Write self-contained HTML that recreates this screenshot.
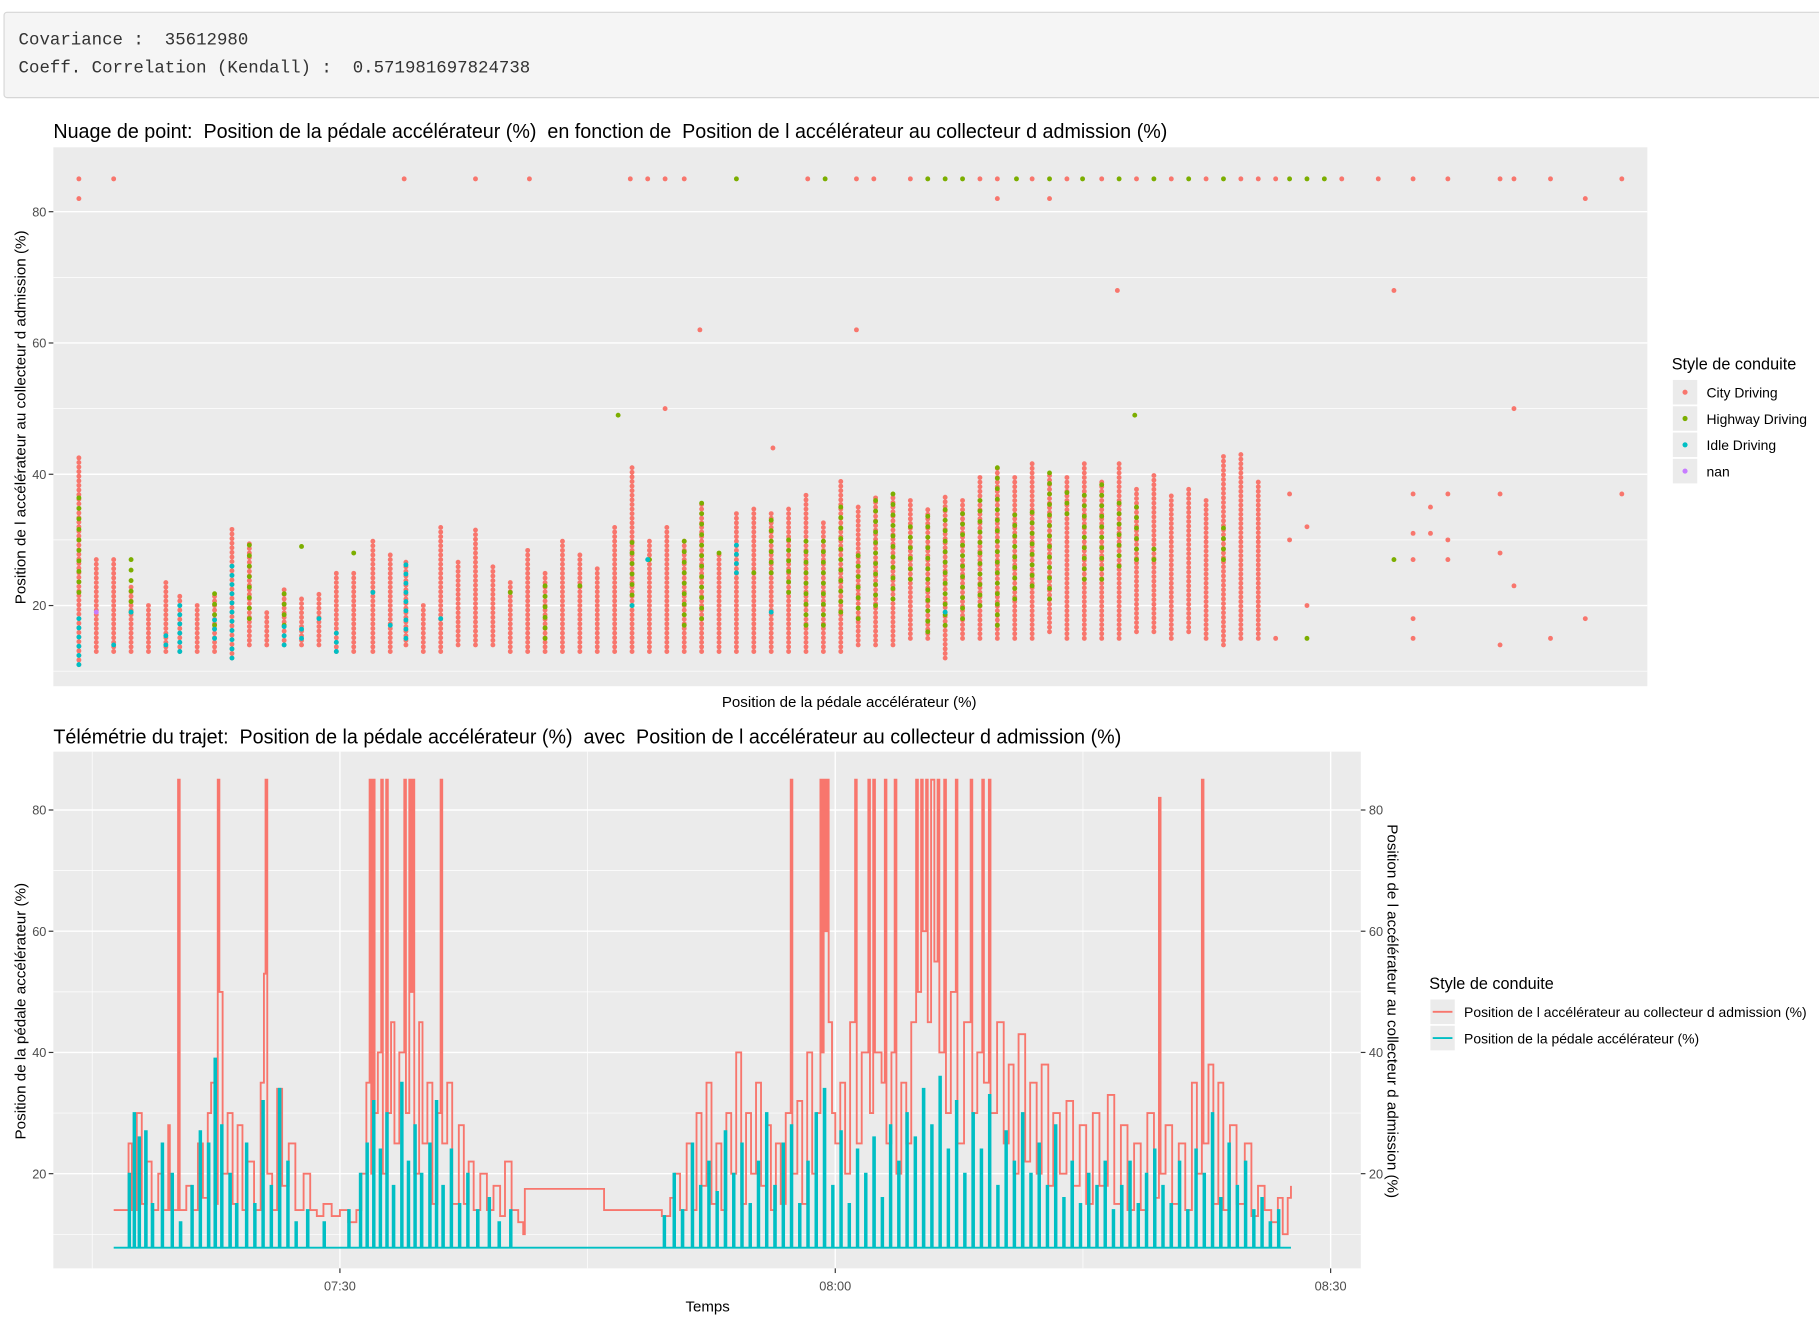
<!DOCTYPE html>
<html><head><meta charset="utf-8">
<style>
html,body{margin:0;padding:0;background:#fff;overflow:hidden;}
#wrap{position:absolute;left:0;top:0;width:1568px;height:1130px;transform-origin:0 0;transform:scale(1.1601,1.1690);}
.out{position:absolute;left:3px;top:10px;width:1570px;height:72px;background:#f5f5f5;border:1px solid #d6d6d6;border-radius:3px;}
.out div{position:absolute;left:12px;font-family:"Liberation Mono",monospace;font-size:15px;color:#333;white-space:pre;}
svg text{font-family:"Liberation Sans",Arial,sans-serif;white-space:pre;}
</style></head><body>
<div id="wrap">
<div class="out">
<div style="top:15px">Covariance :  35612980</div>
<div style="top:39px">Coeff. Correlation (Kendall) :  0.571981697824738</div>
</div>
<svg id="svg" width="1568" height="1130" style="position:absolute;left:0;top:0"></svg>
</div>
<script>
// ---------- Scatter data ----------
const redCols=[[0,11,43],[1,13,27],[2,13,27],[3,13,23],[4,13,20],[5,13,24],[5.8,13,22],[6.8,13,20],[7.8,13,22],[8.8,12,32],[9.8,14,30],[10.8,14,19],[11.8,14,23],[12.8,14,21],[13.8,14,22],[14.8,13,25],[15.8,13,25],[16.9,13,30],[17.9,13,28],[18.8,14,27],[19.8,13,20],[20.8,13,32],[21.8,14,27],[22.8,14,32],[23.8,14,26],[24.8,13,24],[25.8,13,29],[26.8,13,25],[27.8,13,30],[28.8,13,28],[29.8,13,26],[30.8,13,32],[31.8,13,41],[32.8,13,30],[33.8,13,32],[34.8,13,30],[35.8,13,36],[36.8,13,28],[37.8,13,34],[38.8,13,35],[39.8,13,34],[40.8,13,35],[41.8,13,37],[42.8,13,33],[43.8,13,39],[44.8,14,35],[45.8,14,37],[46.8,14,37],[47.8,15,36],[48.8,15,35],[49.8,12,37],[50.8,15,36],[51.8,15,40],[52.8,15,41],[53.8,15,40],[54.8,15,42],[55.8,16,40],[56.8,15,40],[57.8,15,42],[58.8,15,39],[59.8,15,42],[60.8,16,38],[61.8,16,40],[62.8,15,37],[63.8,16,38],[64.8,15,36],[65.8,14,43],[66.8,15,43],[67.8,15,39]];
const redPtsX=[68.8,69.6,69.6,70.6,70.6,76.7,76.7,76.7,76.7,76.7,77.7,77.7,78.7,78.7,78.7,81.7,81.7,81.7,82.5,82.5,84.6,86.6,88.7,75.6,59.7,35.7,44.7,33.7,39.9,0,2,18.7,22.8,25.9,31.7,32.7,33.7,34.8,41.9,44.7,45.7,47.8,51.8,52.8,54.8,56.8,58.8,60.8,62.8,64.8,66.8,67.8,68.8,72.6,74.7,76.7,78.7,81.7,82.5,84.6,88.7,0,52.8,55.8,86.6];
const redPtsY=[15,30,37,32,20,15,18,27,31,37,35,31,37,30,27,37,28,14,23,50,15,18,37,68,68,62,62,50,44,85,85,85,85,85,85,85,85,85,85,85,85,85,85,85,85,85,85,85,85,85,85,85,85,85,85,85,85,85,85,85,85,82,82,82,82];
const greenCols=[[0,22,37],[3,19,28],[7.8,17,22],[9.8,18,30],[11.8,17,23],[26.8,15,24],[31.8,20,30],[34.8,17,30],[35.8,18,36],[39.8,25,34],[40.8,22,31],[41.8,17,30],[42.8,17,31],[43.8,19,36],[44.8,18,28],[45.8,20,37],[46.8,21,37],[47.8,24,33],[48.8,16,34],[49.8,17,35],[50.8,18,34],[51.8,20,37],[52.8,17,41],[53.8,21,35],[54.8,23,35],[55.8,21,41],[56.8,34,38],[57.8,24,38],[58.8,24,39],[59.8,26,36],[60.8,27,35],[61.8,27,30],[65.8,27,32]];
const greenPtsX=[12.8,15.8,24.8,28.8,32.8,36.8,38.8,70.6,75.6,31,60.7,37.8,42.9,48.8,49.8,50.8,53.9,55.8,57.7,59.8,61.8,63.8,65.8,69.6,70.6,71.6];
const greenPtsY=[29,28,22,23,27,28,25,15,27,49,49,85,85,85,85,85,85,85,85,85,85,85,85,85,85,85];
const cyanCols=[[0,11,18],[5,14,16],[5.8,13,21],[7.8,15,18],[8.8,12,26],[11.8,14,18],[12.8,15,17],[14.8,13,16],[18.8,15,27],[37.8,25,30]];
const cyanPtsX=[2,3,13.8,16.9,17.9,20.8,31.8,32.7,39.8,49.8];
const cyanPtsY=[14,19,18,22,17,18,20,27,19,19];
const nanPtsX=[1];
const nanPtsY=[19];
const scYTicks=[20,40,60,80];

// ---------- Telemetry data (minutes after 07:00) ----------
const redT=[16.3,16.8,17.2,17.4,17.7,18.0,18.3,18.6,19.0,19.3,19.6,19.7,20.0,20.2,20.3,20.7,21.0,21.4,21.7,22.0,22.2,22.4,22.6,22.7,22.9,23.2,23.5,23.8,24.1,24.4,24.8,25.2,25.4,25.5,25.6,25.9,26.2,26.5,26.9,27.3,27.8,28.2,28.6,29.0,29.5,30.0,30.5,31.0,31.3,31.6,31.8,31.9,32.0,32.1,32.3,32.5,32.6,32.8,32.9,33.1,33.3,33.6,33.9,34.0,34.2,34.3,34.4,34.5,34.8,35.0,35.3,35.6,35.9,36.1,36.2,36.5,36.8,37.2,37.5,37.8,38.1,38.5,38.9,39.3,39.7,40.0,40.4,40.8,41.1,41.2,46.0,46.0,49.0,49.5,50.0,50.3,50.6,51.0,51.3,51.6,51.9,52.2,52.5,52.8,53.1,53.4,53.7,54.0,54.3,54.6,54.9,55.2,55.5,55.8,56.1,56.4,56.7,57.0,57.3,57.4,57.7,58.0,58.3,58.6,58.9,59.1,59.2,59.3,59.4,59.5,59.6,59.8,60.0,60.3,60.6,60.9,61.2,61.3,61.6,62.0,62.1,62.3,62.4,62.8,63.0,63.1,63.4,63.6,63.7,64.0,64.3,64.6,64.9,65.0,65.2,65.3,65.5,65.6,65.8,66.0,66.2,66.3,66.6,66.7,67.0,67.3,67.4,67.8,68.2,68.3,68.6,68.9,69.0,69.3,69.4,69.8,70.2,70.5,70.8,71.1,71.5,71.8,72.2,72.5,72.9,73.2,73.6,74.0,74.4,74.8,75.2,75.6,76.0,76.5,76.9,77.3,77.7,78.1,78.5,78.9,79.3,79.6,79.7,80.0,80.4,80.8,81.2,81.6,81.9,82.2,82.3,82.6,82.9,83.2,83.5,83.9,84.3,84.8,85.2,85.6,86.0,86.4,86.8,87.1,87.4,87.6];
const redV=[14,14,25,14,30,15,22,14,20,14,28,14,14,85,14,18,14,25,16,30,35,15,85,50,20,30,15,28,14,22,14,35,53,85,20,14,34,18,25,14,20,14,13,15,13,14,12,14,20,35,85,20,85,30,40,85,20,85,30,45,25,40,85,30,85,50,85,20,45,25,35,15,30,85,25,35,15,28,15,22,14,20,14,18,13,22,14,12,10,17.5,17.5,14,14,13,16,20,14,25,14,30,18,35,15,25,14,30,20,40,15,30,20,35,18,28,14,25,15,30,85,20,32,15,40,20,30,85,40,85,60,85,45,30,25,35,20,45,85,25,40,85,30,85,40,35,85,25,40,85,20,35,25,45,85,50,85,60,85,45,85,55,85,40,85,30,50,85,25,45,85,30,40,85,35,85,30,45,25,38,20,43,22,35,20,38,18,30,20,32,18,28,15,30,18,33,15,28,14,25,14,30,16,82,20,28,15,25,14,35,20,85,25,38,15,35,14,28,15,25,13,18,14,12,16,10,16,18];
const cyanT=[16.3,17.0,17.2,17.3,17.5,17.6,17.8,17.9,18.2,18.3,18.6,18.7,19.2,19.3,19.8,19.9,20.3,20.4,21.0,21.1,21.5,21.6,22.0,22.1,22.4,22.5,22.8,22.9,23.3,23.4,23.7,23.8,24.3,24.4,24.8,24.9,25.3,25.4,25.8,25.9,26.3,26.4,26.8,26.9,27.3,27.4,28.0,28.1,29.0,29.1,30.5,30.6,31.2,31.3,31.6,31.7,32.0,32.1,32.4,32.5,32.8,32.9,33.2,33.3,33.7,33.8,34.1,34.2,34.5,34.6,34.9,35.0,35.4,35.5,35.8,35.9,36.2,36.3,36.7,36.8,37.2,37.3,37.7,37.8,38.3,38.4,39.0,39.1,39.6,39.7,40.3,40.4,41.0,49.5,49.6,49.7,50.2,50.3,50.7,50.8,51.3,51.4,51.8,51.9,52.3,52.4,52.8,52.9,53.3,53.4,53.8,53.9,54.3,54.4,54.8,54.9,55.3,55.4,55.8,55.9,56.3,56.4,56.8,56.9,57.3,57.4,57.8,57.9,58.3,58.4,58.8,58.9,59.3,59.4,59.8,59.9,60.3,60.4,60.8,60.9,61.3,61.4,61.8,61.9,62.3,62.4,62.8,62.9,63.3,63.4,63.8,63.9,64.3,64.4,64.8,64.9,65.3,65.4,65.8,65.9,66.3,66.4,66.8,66.9,67.3,67.4,67.8,67.9,68.3,68.4,68.8,68.9,69.3,69.4,69.8,69.9,70.3,70.4,70.8,70.9,71.3,71.4,71.8,71.9,72.3,72.4,72.8,72.9,73.3,73.4,73.8,73.9,74.3,74.4,74.8,74.9,75.3,75.4,75.8,75.9,76.3,76.4,76.8,76.9,77.3,77.4,77.8,77.9,78.3,78.4,78.8,78.9,79.3,79.4,79.8,79.9,80.3,80.4,80.8,80.9,81.3,81.4,81.8,81.9,82.3,82.4,82.8,82.9,83.3,83.4,83.8,83.9,84.3,84.4,84.8,84.9,85.3,85.4,85.8,85.9,86.3,86.4,86.8,86.9,87.6];
const cyanV=[7.8,7.8,20,7.8,30,7.8,26,7.8,27,7.8,15,7.8,25,7.8,20,7.8,12,7.8,18,7.8,27,7.8,25,7.8,39,7.8,28,7.8,20,7.8,15,7.8,25,7.8,15,7.8,32,7.8,18,7.8,34,7.8,22,7.8,12,7.8,14,7.8,12,7.8,14,7.8,20,7.8,25,7.8,32,7.8,24,7.8,30,7.8,18,7.8,35,7.8,22,7.8,28,7.8,20,7.8,25,7.8,32,7.8,18,7.8,24,7.8,15,7.8,20,7.8,14,7.8,16,7.8,12,7.8,14,7.8,7.8,7.8,13,7.8,20,7.8,14,7.8,25,7.8,18,7.8,22,7.8,17,7.8,27,7.8,20,7.8,25,7.8,15,7.8,22,7.8,30,7.8,18,7.8,25,7.8,28,7.8,15,7.8,22,7.8,30,7.8,34,7.8,18,7.8,27,7.8,15,7.8,24,7.8,20,7.8,26,7.8,16,7.8,28,7.8,22,7.8,30,7.8,26,7.8,34,7.8,28,7.8,36,7.8,24,7.8,32,7.8,20,7.8,30,7.8,24,7.8,33,7.8,18,7.8,27,7.8,22,7.8,30,7.8,20,7.8,25,7.8,18,7.8,28,7.8,16,7.8,22,7.8,15,7.8,20,7.8,18,7.8,22,7.8,14,7.8,18,7.8,22,7.8,15,7.8,20,7.8,24,7.8,18,7.8,15,7.8,22,7.8,14,7.8,24,7.8,20,7.8,30,7.8,16,7.8,25,7.8,18,7.8,22,7.8,14,7.8,16,7.8,12,7.8,14,7.8,7.8];
const tmYTicks=[20,40,60,80];
const tmXTicks=[30,60,90];
const tmXLabels=["07:30","08:00","08:30"];

const NS="http://www.w3.org/2000/svg";
const svg=document.getElementById('svg');
function mk(tag,attrs,parent){const e=document.createElementNS(NS,tag);for(const k in attrs)e.setAttribute(k,attrs[k]);(parent||svg).appendChild(e);return e;}
function txt(s,attrs,parent){const e=mk('text',attrs,parent);e.textContent=s;return e;}
const RED="#F8766D",GREEN="#7CAE00",CYAN="#00BFC4",PURP="#C77CFF";

// ===== Scatter =====
const sx=u=>68+u*(1398-68)/88.7;
const sy=v=>518-(v-20)*5.615;
let t=txt("Nuage de point:  Position de la pédale accélérateur (%)  en fonction de  Position de l accélérateur au collecteur d admission (%)",{x:46,y:118,"font-size":17,fill:"#000"});

let p=mk('rect',{x:46,y:126,width:1374,height:461,fill:"#EBEBEB"});

[10,30,50,70].forEach(v=>{const l=mk('line',{x1:46,x2:1420,y1:sy(v),y2:sy(v),stroke:"#fff","stroke-width":0.6});});
scYTicks.forEach(v=>{
 const l=mk('line',{x1:46,x2:1420,y1:sy(v),y2:sy(v),stroke:"#fff","stroke-width":1.2});
 
 const tk=mk('line',{x1:42,x2:46,y1:sy(v),y2:sy(v),stroke:"#333"});
 
 const lb=txt(String(v),{x:40,y:sy(v)+4,"font-size":11,fill:"#4d4d4d","text-anchor":"end"});
 
});
const g1=mk('g',{});
function dot(x,y,c,nm){const d=mk('circle',{cx:x,cy:y,r:2.1,fill:c},g1);}
function cols(arr,c,nm,step){arr.forEach(a=>{for(let v=a[1];v<=a[2]+0.01;v+=step)dot(sx(a[0]),sy(v),c,nm);});}
cols(redCols,RED,'city-point',0.7);
redPtsX.forEach((x,i)=>dot(sx(x),sy(redPtsY[i]),RED,'city-point'));
cols(greenCols,GREEN,'highway-point',1.6);
greenPtsX.forEach((x,i)=>dot(sx(x),sy(greenPtsY[i]),GREEN,'highway-point'));
cols(cyanCols,CYAN,'idle-point',1.4);
cyanPtsX.forEach((x,i)=>dot(sx(x),sy(cyanPtsY[i]),CYAN,'idle-point'));
nanPtsX.forEach((x,i)=>dot(sx(x),sy(nanPtsY[i]),PURP,'nan-point'));
t=txt("Position de la pédale accélérateur (%)",{x:732,y:605,"font-size":13,fill:"#000","text-anchor":"middle"});

t=txt("Position de l accélérateur au collecteur d admission (%)",{x:0,y:0,"font-size":13,fill:"#000","text-anchor":"middle",transform:"translate(22,357) rotate(-90)"});

t=txt("Style de conduite",{x:1441,y:316,"font-size":14,fill:"#000"});

[["City Driving",RED],["Highway Driving",GREEN],["Idle Driving",CYAN],["nan",PURP]].forEach((e,i)=>{
 const y=325+i*22.5;
 const r=mk('rect',{x:1442,y:y,width:21,height:21,fill:"#EBEBEB"});
 const c=mk('circle',{cx:1452.5,cy:y+10.5,r:2.2,fill:e[1]});
 const l=txt(e[0],{x:1471,y:y+15,"font-size":12,fill:"#000"});
});

// ===== Telemetry =====
const tx=m=>293+(m-30)*(720-293)/30;
const ty=v=>1004-(v-20)*5.185;
t=txt("Télémétrie du trajet:  Position de la pédale accélérateur (%)  avec  Position de l accélérateur au collecteur d admission (%)",{x:46,y:636,"font-size":17,fill:"#000"});

p=mk('rect',{x:46,y:643,width:1127,height:442,fill:"#EBEBEB"});

[10,30,50,70].forEach(v=>{const l=mk('line',{x1:46,x2:1173,y1:ty(v),y2:ty(v),stroke:"#fff","stroke-width":0.6});});
[15,45,75].forEach(m=>{const l=mk('line',{y1:643,y2:1085,x1:tx(m),x2:tx(m),stroke:"#fff","stroke-width":0.6});});
tmYTicks.forEach(v=>{
 const l=mk('line',{x1:46,x2:1173,y1:ty(v),y2:ty(v),stroke:"#fff","stroke-width":1.2});
 const tk=mk('line',{x1:42,x2:46,y1:ty(v),y2:ty(v),stroke:"#333"});
 const lb=txt(String(v),{x:40,y:ty(v)+4,"font-size":11,fill:"#4d4d4d","text-anchor":"end"});
 const tk2=mk('line',{x1:1173,x2:1177,y1:ty(v),y2:ty(v),stroke:"#333"});
 const lb2=txt(String(v),{x:1180,y:ty(v)+4,"font-size":11,fill:"#4d4d4d"});
});
tmXTicks.forEach((m,i)=>{
 const l=mk('line',{y1:643,y2:1085,x1:tx(m),x2:tx(m),stroke:"#fff","stroke-width":1.2});
 const tk=mk('line',{y1:1085,y2:1089,x1:tx(m),x2:tx(m),stroke:"#333"});
 const lb=txt(tmXLabels[i],{x:tx(m),y:1104,"font-size":11,fill:"#4d4d4d","text-anchor":"middle"});
});
function stepPath(T,V){let d="M"+tx(T[0]).toFixed(1)+","+ty(V[0]).toFixed(1);for(let i=1;i<T.length;i++){d+=" H"+tx(T[i]).toFixed(1)+" V"+ty(V[i]).toFixed(1);}return d;}
let pl=mk('path',{d:stepPath(redT,redV),fill:"none",stroke:RED,"stroke-width":1.6});

pl=mk('path',{d:stepPath(cyanT,cyanV),fill:"none",stroke:CYAN,"stroke-width":1.6});

t=txt("Temps",{x:610,y:1122,"font-size":13,fill:"#000","text-anchor":"middle"});

t=txt("Position de la pédale accélérateur (%)",{x:0,y:0,"font-size":13,fill:"#000","text-anchor":"middle",transform:"translate(22,865) rotate(-90)"});

t=txt("Position de l accélérateur au collecteur d admission (%)",{x:0,y:0,"font-size":13,fill:"#000","text-anchor":"middle",transform:"translate(1196,865) rotate(90)"});

t=txt("Style de conduite",{x:1232,y:846,"font-size":14,fill:"#000"});

[["Position de l accélérateur au collecteur d admission (%)",RED],["Position de la pédale accélérateur (%)",CYAN]].forEach((e,i)=>{
 const y=855+i*22.5;
 const r=mk('rect',{x:1233,y:y,width:21,height:21,fill:"#EBEBEB"});
 const l=mk('line',{x1:1235,x2:1252,y1:y+10.5,y2:y+10.5,stroke:e[1],"stroke-width":1.6});
 const tt=txt(e[0],{x:1262,y:y+15,"font-size":12,fill:"#000"});
});
</script>
</body></html>
